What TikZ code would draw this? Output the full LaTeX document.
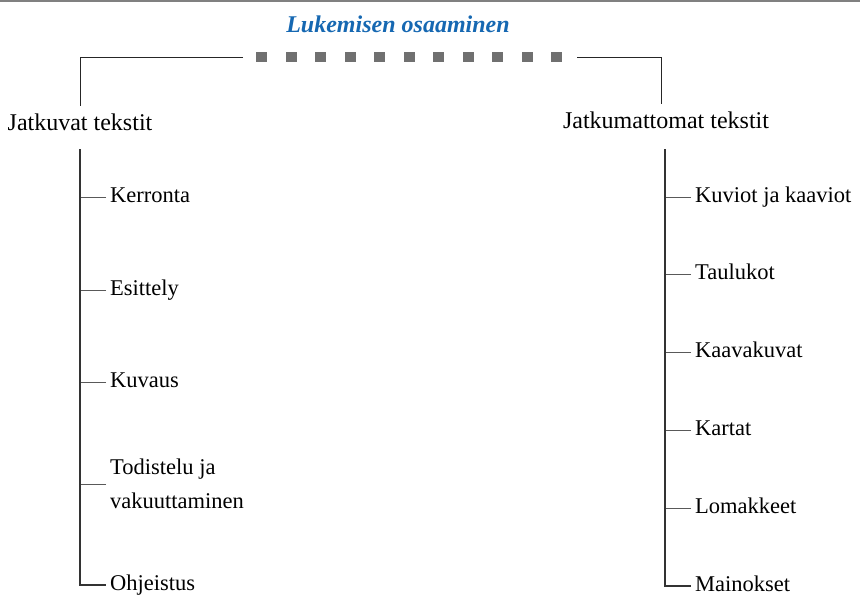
\documentclass[tikz,border=0pt]{standalone}
\usepackage{fontspec}
\setmainfont{Liberation Serif}
\definecolor{otsikko}{RGB}{22,104,178}
\definecolor{nelio}{RGB}{112,112,112}
\begin{document}
\begin{tikzpicture}[x=1pt,y=-1pt,
  teksti/.style={inner sep=4pt, font=\fontsize{24}{35}\selectfont, text height=17pt, text depth=6pt},
  lehti/.style={teksti, anchor=west, font=\fontsize{22.5}{35}\selectfont},
  runko/.style={draw=black!80, line width=1.5pt},
  haara/.style={draw=black!65, line width=1pt},
  sulku/.style={draw=black!85, line width=0.9pt}]
\useasboundingbox (0,0) rectangle (860,595);
\draw[gray, line width=1.5pt] (0,1) -- (860,1);
\node[font=\fontsize{24}{28}\selectfont\bfseries\itshape, text=otsikko] (otsikko) at (398,24) {Lukemisen osaaminen};
% katkoviiva
\foreach \i in {0,...,10}
  \fill[nelio] (256+29.5*\i,52) rectangle ++(11,10);
\coordinate (sulkuV) at (243,57);
\coordinate (sulkuO) at (577,57);
% paatasot
\node[teksti] (jatkuvat) at (80,125) {Jatkuvat tekstit};
\node[teksti] (jatkumattomat) at (666,123) {Jatkumattomat tekstit};
\draw[sulku] (sulkuV) -| ([yshift=3pt]jatkuvat.north);
\draw[sulku] (sulkuO) -| ([xshift=-5pt,yshift=3pt]jatkumattomat.north);
% jatkuvat tekstit
\coordinate (runkoV) at (80,149);
\foreach \nimi/\y/\txt in {kerronta/197/Kerronta, esittely/290/Esittely, kuvaus/382/Kuvaus}{
  \node[lehti] (\nimi) at (106,\y) {\txt};
  \draw[haara] (\nimi.west) -- (\nimi.west -| runkoV);
}
\node[anchor=west, inner sep=4pt, align=left, font=\fontsize{22.5}{34}\selectfont] (todistelu) at (106,484) {Todistelu ja\\vakuuttaminen};
\draw[haara] (todistelu.west) -- (todistelu.west -| runkoV);
\node[lehti] (ohjeistus) at (106,585) {Ohjeistus};
\draw[runko] (runkoV) |- (ohjeistus.west);
% jatkumattomat tekstit
\coordinate (runkoO) at (665,149);
\foreach \nimi/\y/\txt in {kuviot/197/Kuviot ja kaaviot, taulukot/274/Taulukot, kaavakuvat/352/Kaavakuvat, kartat/430/Kartat, lomakkeet/508/Lomakkeet}{
  \node[lehti] (\nimi) at (691,\y) {\txt};
  \draw[haara] (\nimi.west) -- (\nimi.west -| runkoO);
}
\node[lehti] (mainokset) at (691,586) {Mainokset};
\draw[runko] (runkoO) |- (mainokset.west);
\end{tikzpicture}
\end{document}
